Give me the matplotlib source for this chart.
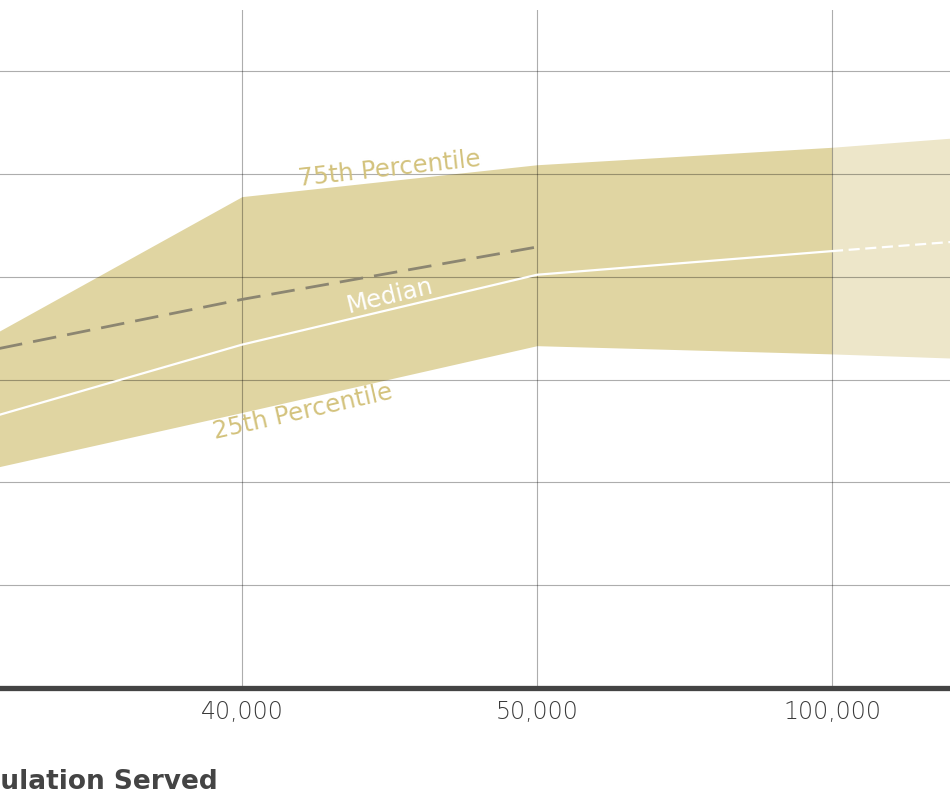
import matplotlib
matplotlib.use('Agg')
import matplotlib.pyplot as plt
import numpy as np

# population categories (first and last fall outside the visible crop)
categories = ['30,000', '40,000', '50,000', '100,000', '250,000']
p75 = [3.19, 4.78, 5.09, 5.26, 5.48]
median = [2.51, 3.34, 4.02, 4.25, 4.47]
p25 = [2.04, 2.68, 3.33, 3.25, 3.15]
prior_median = [3.20, 3.78, 4.29]   # dashed comparison line, stops at 50,000
y_grid = [1, 2, 3, 4, 5, 6]

fill_col = '#e0d5a2'
fill_light = '#ede6c9'
text_gold = '#d3c27c'

plt.rcParams['font.family'] = ['DejaVu Sans']

fig = plt.figure(figsize=(9.5, 8.01), dpi=100)
ax = fig.add_axes([0, (801 - 688) / 801, 1, (688 - 10) / 801])

x = np.arange(len(categories))

# band up to 100,000, lighter projection after
ax.fill_between(x[:4], p25[:4], p75[:4], color=fill_col, lw=0, zorder=0.3)
ax.fill_between(x[3:], p25[3:], p75[3:], color=fill_light, lw=0, zorder=0.3)

ax.plot(x[:4], median[:4], color='white', lw=1.6, zorder=2)
ax.plot(x[3:], median[3:], color='white', lw=1.6, dashes=(5, 2.5), zorder=2)
ax.plot(x[:3], prior_median, color='#8c8671', lw=2.0, dashes=(8.5, 4), zorder=2)

ax.set_xlim(1 - 242 / 295, 1 + 708 / 295)
ax.set_ylim(0, (688 - 10) / 102.8)

ax.set_xticks(x[1:4])
ax.set_xticklabels(categories[1:4], fontsize=17, color='#3a3a3a', fontweight='light')
ax.set_yticks(y_grid)
ax.set_yticklabels([])
ax.tick_params(axis='both', length=0)
ax.tick_params(axis='x', pad=9)

ax.set_axisbelow(True)
ax.grid(True, color='black', alpha=0.32, lw=0.8)

for s in ['top', 'right', 'left']:
    ax.spines[s].set_visible(False)
ax.spines['bottom'].set_color('#444444')
ax.spines['bottom'].set_linewidth(3.8)
ax.spines['bottom'].set_zorder(3)

# line labels
ax.text(1.5, 5.05, '75th Percentile', color=text_gold, fontsize=17.5,
        rotation=6.3, ha='center', va='center')
ax.text(1.5, 3.81, 'Median', color='white', fontsize=17.5,
        rotation=13.5, ha='center', va='center')
ax.text(1.207, 2.685, '25th Percentile', color=text_gold, fontsize=17.5,
        rotation=12.8, ha='center', va='center')

# the reference crop cuts the start of this label at the left edge
fig.text(218 / 950, (801 - 789) / 801, 'Population Served', ha='right', va='baseline',
         fontsize=19, fontweight='bold', color='#444444')

fig.savefig('out.png', dpi=100)
